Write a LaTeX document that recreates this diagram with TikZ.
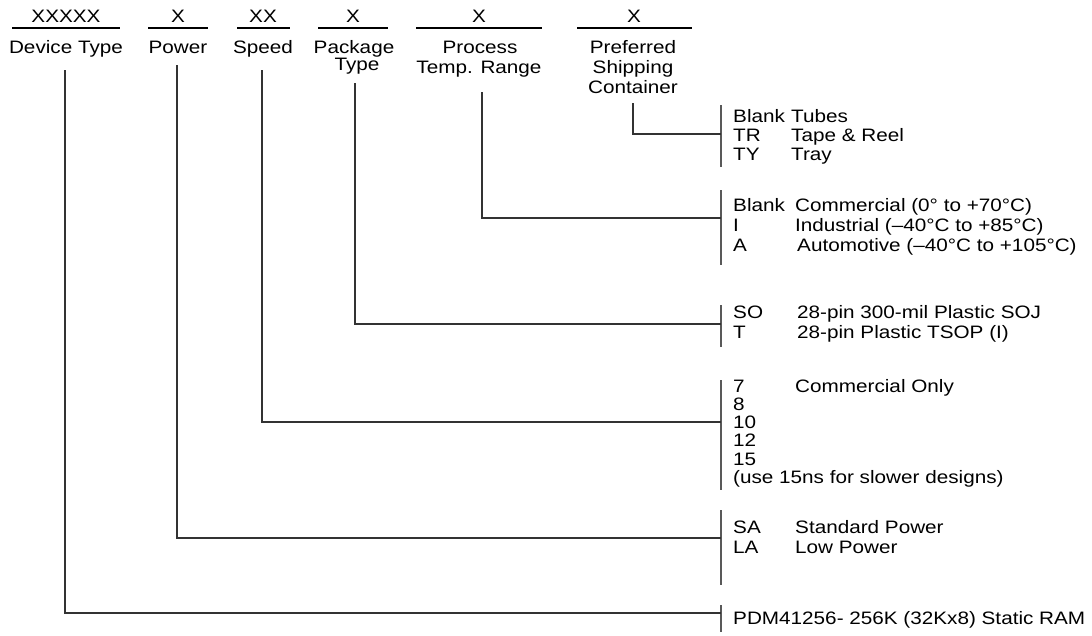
\documentclass[tikz,border=0pt]{standalone}
\usepackage{fontspec}
\setmainfont{Liberation Sans}
\usepackage{graphicx}
\newcommand{\sx}[1]{\scalebox{1.15}[1]{#1}}
\begin{document}
\begin{tikzpicture}[x=1pt,y=-1pt,
  txt/.style={font=\fontsize{18}{20}\selectfont, inner sep=0pt, anchor=base},
  lft/.style={txt, anchor=base west},
  hrule/.style={line width=2pt, draw=black},
  conn/.style={line width=1.1pt, draw=black!80},
  bar/.style={line width=1.1pt, draw=black!65}]
\useasboundingbox (0,0) rectangle (1092,635);

% header codes and rules
\node[txt] (c1) at (66,22.5) {\sx{XXXXX}};
\node[txt] (c2) at (178,22.5) {\sx{X}};
\node[txt] (c3) at (263,22.5) {\sx{XX}};
\node[txt] (c4) at (353,22.5) {\sx{X}};
\node[txt] (c5) at (479,22.5) {\sx{X}};
\node[txt] (c6) at (634,22.5) {\sx{X}};
\draw[hrule] (12,28) -- (120,28);
\draw[hrule] (148,28) -- (208,28);
\draw[hrule] (237,28) -- (290,28);
\draw[hrule] (318,28) -- (388,28);
\draw[hrule] (416,28) -- (542,28);
\draw[hrule] (577,28) -- (692,28);

% header labels
\node[txt] (l1) at (66,53) {\sx{Device Type}};
\node[txt] (l2) at (178,53) {\sx{Power}};
\node[txt] (l3) at (263,53) {\sx{Speed}};
\node[txt] (l4a) at (354,53) {\sx{Package}};
\node[txt] (l4b) at (357,70.5) {\sx{Type}};
\node[txt] (l5a) at (480,53) {\sx{Process}};
\node[txt] (l5b) at (479,73) {\sx{Temp. Range}};
\node[txt] (l6a) at (633,53) {\sx{Preferred}};
\node[txt] (l6b) at (633,73) {\sx{Shipping}};
\node[txt] (l6c) at (633,93) {\sx{Container}};

% right-hand bars
\coordinate (b1t) at (721,105); \coordinate (b1b) at (721,167);
\coordinate (b2t) at (721,190); \coordinate (b2b) at (721,265);
\coordinate (b3t) at (721,305); \coordinate (b3b) at (721,347);
\coordinate (b4t) at (721,380); \coordinate (b4b) at (721,490);
\coordinate (b5t) at (721,510); \coordinate (b5b) at (721,585);
\coordinate (b6t) at (721,605); \coordinate (b6b) at (721,632);
\foreach \i in {1,...,6} { \draw[bar] (b\i t) -- (b\i b); }

% connector ends
\coordinate (p6) at (633,103); \coordinate (j6) at (721,134);
\coordinate (p5) at (482,92);  \coordinate (j5) at (721,218);
\coordinate (p4) at (355,83);  \coordinate (j4) at (721,324);
\coordinate (p3) at (262,70);  \coordinate (j3) at (721,422);
\coordinate (p2) at (177,65);  \coordinate (j2) at (721,538);
\coordinate (p1) at (65,70);   \coordinate (j1) at (721,613);
\foreach \i in {1,...,6} { \draw[conn] (p\i) |- (j\i); }

% group 1: shipping container
\node[lft] (g1a) at (733,122) {\sx{Blank}};
\node[lft] (g1ad) at (791,122) {\sx{Tubes}};
\node[lft] (g1b) at (733,141) {\sx{TR}};
\node[lft] (g1bd) at (791,141) {\sx{Tape \& Reel}};
\node[lft] (g1c) at (733,160) {\sx{TY}};
\node[lft] (g1cd) at (791,160) {\sx{Tray}};

% group 2: temperature
\node[lft] (g2a) at (733,211) {\sx{Blank}};
\node[lft] (g2ad) at (795,211) {\sx{Commercial (0° to +70°C)}};
\node[lft] (g2b) at (733,231) {\sx{I}};
\node[lft] (g2bd) at (795,231) {\sx{Industrial (–40°C to +85°C)}};
\node[lft] (g2c) at (733,251) {\sx{A}};
\node[lft] (g2cd) at (797,251) {\sx{Automotive (–40°C to +105°C)}};

% group 3: package
\node[lft] (g3a) at (733,318) {\sx{SO}};
\node[lft] (g3ad) at (797,318) {\sx{28-pin 300-mil Plastic SOJ}};
\node[lft] (g3b) at (733,338) {\sx{T}};
\node[lft] (g3bd) at (797,338) {\sx{28-pin Plastic TSOP (I)}};

% group 4: speed
\node[lft] (g4a) at (733,392) {\sx{7}};
\node[lft] (g4ad) at (795,392) {\sx{Commercial Only}};
\node[lft] (g4b) at (733,410) {\sx{8}};
\node[lft] (g4c) at (733,428.5) {\sx{10}};
\node[lft] (g4d) at (733,446.5) {\sx{12}};
\node[lft] (g4e) at (733,465) {\sx{15}};
\node[lft] (g4f) at (733,483) {\sx{(use 15ns for slower designs)}};

% group 5: power
\node[lft] (g5a) at (733,533) {\sx{SA}};
\node[lft] (g5ad) at (795,533) {\sx{Standard Power}};
\node[lft] (g5b) at (733,553) {\sx{LA}};
\node[lft] (g5bd) at (795,553) {\sx{Low Power}};

% group 6: device
\node[lft] (g6a) at (733,624) {\sx{PDM41256- 256K (32Kx8) Static RAM}};
\end{tikzpicture}
\end{document}
